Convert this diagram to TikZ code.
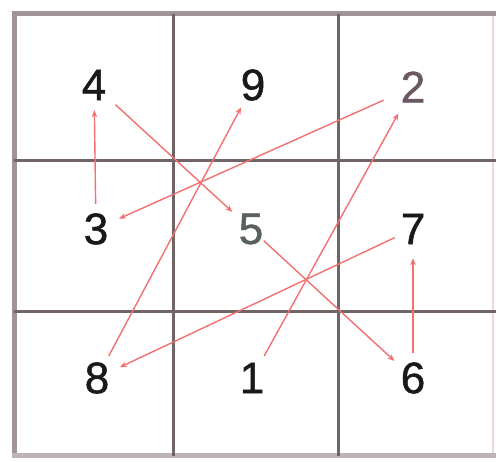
\documentclass[tikz,border=0pt]{standalone}
\usepackage{fontspec}
\setmainfont[FakeBold=1.2]{Liberation Sans}
\usetikzlibrary{arrows.meta}
\definecolor{gridc}{RGB}{112,100,100}
\definecolor{framec}{RGB}{160,148,150}
\definecolor{framer}{RGB}{235,215,220}
\definecolor{arr}{RGB}{242,112,112}
\definecolor{twoc}{RGB}{108,88,98}
\definecolor{fivec}{RGB}{90,96,96}
\definecolor{digc}{RGB}{25,25,25}
\begin{document}
\begin{tikzpicture}[x=1pt,y=-1pt,
  num/.style={circle,minimum size=50pt,inner sep=0pt,text=digc,
    font=\fontsize{44}{48}\selectfont},
  gridline/.style={draw=gridc,line width=3pt},
  frameline/.style={draw=framec,line width=5pt},
  conn/.style={draw=arr,line width=1.4pt,-{Stealth[length=7pt,width=5.5pt]}}]
\useasboundingbox (0,0) rectangle (496,462);
% frame
\draw[draw=framer,line width=2pt] (493,12) -- (493,458);
\draw[frameline] (14,12) -- (14,458);
\draw[frameline] (12,14) -- (496,14);
\draw[draw=framec!70,line width=5pt] (12,456) -- (496,456);
% inner grid
\draw[gridline] (173,14) -- (173,456);
\draw[gridline] (338,14) -- (338,456);
\draw[gridline] (14,161) -- (496,161);
\draw[gridline] (14,312) -- (496,312);
% numbers
\node[num] (n4) at (94,85) {4};
\node[num] (n9) at (253,85) {9};
\node[num,text=twoc] (n2) at (413,87) {2};
\node[num] (n3) at (96,229) {3};
\node[num,text=fivec] (n5) at (251,229) {5};
\node[num] (n7) at (413,229) {7};
\node[num] (n8) at (97,378) {8};
\node[num] (n1) at (252,378) {1};
\node[num] (n6) at (413,378) {6};
% connectors
\draw[conn] (n3) -- (n4);
\draw[conn,shorten <=4pt] (n4) -- (n5);
\draw[conn,shorten <=7pt] (n2) -- (n3);
\draw[conn] (n8) -- (n9);
\draw[conn,shorten >=5pt] (n1) -- (n2);
\draw[conn,shorten <=-8pt] (n5) -- (n6);
\draw[conn,shorten <=-5pt] (n7) -- (n8);
\draw[conn,shorten >=4pt] (n6) -- (n7);
\end{tikzpicture}
\end{document}
